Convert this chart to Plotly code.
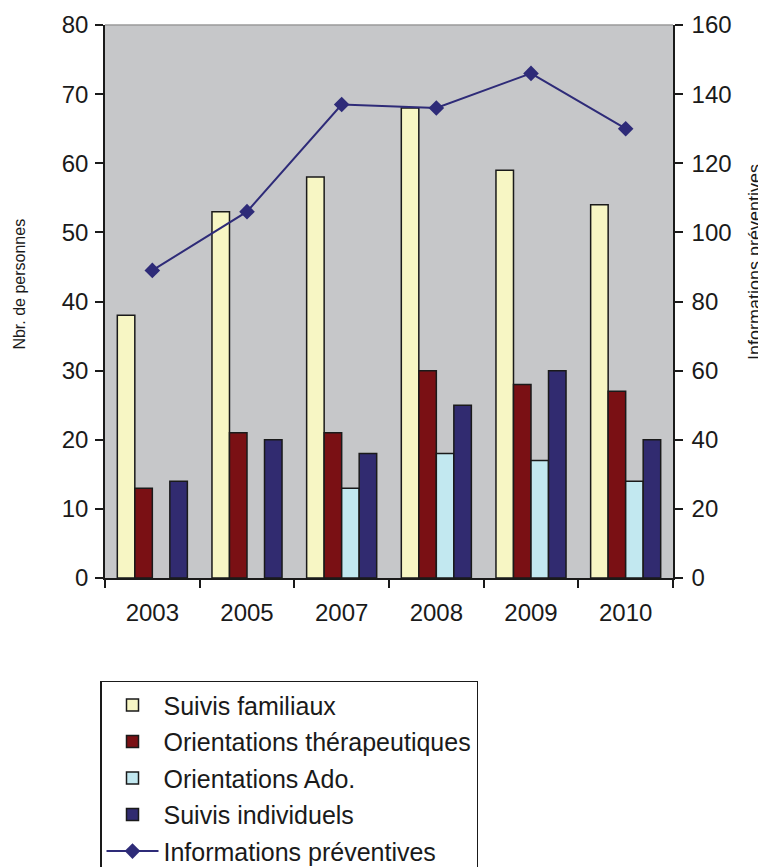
import plotly.graph_objects as go

years = ["2003", "2005", "2007", "2008", "2009", "2010"]
suivis_familiaux = [38, 53, 58, 68, 59, 54]
orientations_therap = [13, 21, 21, 30, 28, 27]
orientations_ado = [None, None, 13, 18, 17, 14]
suivis_individuels = [14, 20, 18, 25, 30, 20]
informations_prev = [89, 106, 137, 136, 146, 130]

FONT = "Liberation Sans, Arial, sans-serif"
bar_line = dict(color="#1a1a1a", width=1.5)

fig = go.Figure()
fig.add_trace(go.Bar(x=years, y=suivis_familiaux, name="Suivis familiaux", legendgroup="a",
                     marker=dict(color="#f7f6c4", line=bar_line)))
fig.add_trace(go.Bar(x=years, y=orientations_therap, name="Orientations thérapeutiques", legendgroup="b",
                     marker=dict(color="#7a1014", line=bar_line)))
fig.add_trace(go.Bar(x=years, y=orientations_ado, name="Orientations Ado.", legendgroup="c",
                     marker=dict(color="#c2e8f0", line=bar_line)))
fig.add_trace(go.Bar(x=years, y=suivis_individuels, name="Suivis individuels", legendgroup="d",
                     marker=dict(color="#312b70", line=bar_line)))
fig.add_trace(go.Scatter(x=years, y=informations_prev, name="Informations préventives", legendgroup="e",
                         yaxis="y2", mode="lines+markers",
                         line=dict(color="#2e2b78", width=2),
                         marker=dict(symbol="diamond", size=12, color="#2e2b78")))

axis_common = dict(showgrid=False, zeroline=False, showline=True, linecolor="#1a1a1a",
                   linewidth=1.5, ticks="outside", ticklen=8, tickcolor="#1a1a1a",
                   tickwidth=1.5, tickfont=dict(family=FONT, size=24, color="#1a1a1a"))

fig.update_layout(
    width=766, height=867,
    margin=dict(l=97, r=101, t=17, b=297, autoexpand=False),
    paper_bgcolor="white", plot_bgcolor="#c6c7c9",
    barmode="group", bargap=0.26, bargroupgap=0,
    font=dict(family=FONT, color="#1a1a1a"),
    xaxis=dict(**axis_common, tickson="boundaries", type="category", ticklabelstandoff=12),
    yaxis=dict(**axis_common, range=[0, 80], dtick=10, ticklabelstandoff=2),
    yaxis2=dict(**axis_common, range=[0, 160], dtick=20, overlaying="y", side="right",
                ticklabelstandoff=4),
    legend=dict(x=-0.0088, y=-0.186, xanchor="left", yanchor="top",
                bordercolor="#1a1a1a", borderwidth=1.5, bgcolor="white",
                font=dict(family=FONT, size=25, color="#1a1a1a"),
                itemwidth=52, traceorder="grouped", tracegroupgap=1),
    showlegend=True,
)

fig.add_shape(type="line", xref="paper", yref="paper", x0=0, x1=1, y0=1, y1=1,
              line=dict(color="#9a9a9a", width=1.5))

fig.add_annotation(text="Nbr. de personnes", xref="paper", yref="paper",
                   x=-0.150, y=0.532, xanchor="center", yanchor="middle",
                   textangle=-90, showarrow=False,
                   font=dict(family=FONT, size=16, color="#1a1a1a"))
fig.add_annotation(text="Informations préventives", xref="paper", yref="paper",
                   x=1.144, y=0.571, xanchor="center", yanchor="middle",
                   textangle=-90, showarrow=False,
                   font=dict(family=FONT, size=18, color="#1a1a1a"))

fig.write_html("out.html")
